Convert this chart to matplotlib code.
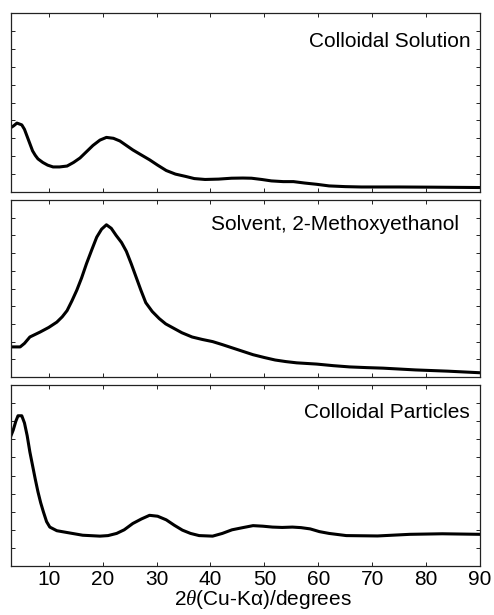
import matplotlib
matplotlib.use("Agg")
import matplotlib.pyplot as plt

plt.rcParams['font.family'] = ['Liberation Sans', 'DejaVu Sans']
plt.rcParams['mathtext.fontset'] = 'custom'
plt.rcParams['mathtext.it'] = 'Liberation Serif:italic'

# Colloidal Solution
x1 = [3, 3.5, 4.1, 5, 5.5, 6, 6.5, 7, 7.5, 8, 8.9, 9.8, 10.8, 12, 13.4, 14.6, 15.8,
      17, 18.2, 19.5, 20.7, 22, 23.2, 24.4, 25.6, 27, 28.7, 30.2, 31.8, 33.5,
      35.4, 37, 39, 41.5, 43.9, 46, 47.6, 49.5, 51.3, 53.5, 55.4, 57.5, 59.7,
      62, 65, 68, 75, 81, 90]
y1 = [0.36, 0.37, 0.385, 0.375, 0.35, 0.31, 0.27, 0.23, 0.205, 0.185, 0.165,
      0.15, 0.14, 0.14, 0.145, 0.165, 0.19, 0.225, 0.26, 0.29, 0.305, 0.30,
      0.285, 0.26, 0.235, 0.21, 0.18, 0.15, 0.12, 0.1, 0.087, 0.075, 0.07,
      0.072, 0.077, 0.078, 0.077, 0.07, 0.062, 0.058, 0.058, 0.05, 0.043,
      0.034, 0.03, 0.028, 0.028, 0.027, 0.025]

# Solvent, 2-Methoxyethanol
x2 = [3, 4.7, 5.5, 6.5, 8.4, 10, 11.5, 12.5, 13.4, 14.3, 15.2, 16.1, 17, 18,
      18.9, 19.8, 20.7, 21.6, 22.5, 23.5, 24.4, 25.3, 26.2, 27.1, 28, 29.2,
      30.5, 31.7, 32.9, 34.7, 36.6, 38.5, 40.4, 42.2, 44, 46, 47.9, 50, 52,
      54, 56, 59.7, 62.8, 65.8, 69, 72, 75, 78, 84, 90]
y2 = [0.17, 0.17, 0.19, 0.226, 0.254, 0.28, 0.31, 0.34, 0.375, 0.43, 0.49,
      0.56, 0.64, 0.72, 0.79, 0.835, 0.86, 0.84, 0.80, 0.76, 0.71, 0.64,
      0.565, 0.49, 0.42, 0.37, 0.33, 0.30, 0.28, 0.25, 0.226, 0.212, 0.2,
      0.183, 0.165, 0.145, 0.126, 0.11, 0.096, 0.087, 0.08, 0.073, 0.064,
      0.057, 0.053, 0.05, 0.045, 0.04, 0.033, 0.024]

# Colloidal Particles
x3 = [3, 3.4, 3.9, 4.3, 5, 5.5, 6, 6.5, 7.1, 7.5, 8, 8.5, 9, 9.6, 10.2, 11.5,
      13.4, 16.3, 19.5, 21, 22.6, 24, 25.6, 27.2, 28.7, 30.2, 31.8, 33.3, 34.8,
      36.3, 37.9, 40.4, 42.2, 44, 46, 47.9, 49.7, 51.5, 53.3, 55.2, 56.8, 58.5,
      60.2, 62, 65.2, 71, 77, 83, 90]
y3 = [0.72, 0.75, 0.80, 0.83, 0.83, 0.79, 0.72, 0.63, 0.54, 0.48, 0.41, 0.35,
      0.30, 0.245, 0.215, 0.195, 0.185, 0.17, 0.165, 0.168, 0.18, 0.2, 0.235,
      0.26, 0.28, 0.275, 0.255, 0.225, 0.198, 0.18, 0.168, 0.165, 0.18, 0.2,
      0.212, 0.223, 0.22, 0.215, 0.213, 0.215, 0.212, 0.205, 0.19, 0.18,
      0.168, 0.166, 0.175, 0.178, 0.175]

labels = ["Colloidal Solution", "Solvent, 2-Methoxyethanol", "Colloidal Particles"]
xticks = [10, 20, 30, 40, 50, 60, 70, 80, 90]

fig = plt.figure(figsize=(4.94, 6.15), dpi=100)
W = 494.0
H = 615.0
boxes = [(11, 13, 480, 192), (11, 200, 480, 377), (11, 385, 480, 566)]
text_pos = [(0.979, 0.84), (0.955, 0.86), (0.979, 0.85)]
series = [(x1, y1), (x2, y2), (x3, y3)]

for i, (box, (xs, ys), lab, tp) in enumerate(zip(boxes, series, labels, text_pos)):
    l, t, r, b = box
    ax = fig.add_axes([l / W, 1 - b / H, (r - l) / W, (b - t) / H])
    ax.plot(xs, ys, color='black', lw=2.2, solid_joinstyle='round')
    ax.set_xlim(3, 90)
    ax.set_ylim(0, 1)
    ax.set_xticks(xticks)
    ax.set_yticks([k / 10 for k in range(1, 10)])
    ax.tick_params(direction='in', length=3, width=0.7, top=True, right=True,
                   labelleft=False, colors='#222222')
    ax.tick_params(axis='x', labelsize=15, pad=3, labelcolor='black')
    if i < 2:
        ax.tick_params(labelbottom=False)
    for s in ax.spines.values():
        s.set_linewidth(0.9)
        s.set_color('#222222')
    ax.text(tp[0], tp[1], lab, transform=ax.transAxes, ha='right', va='center',
            fontsize=15, color='black')
    if i == 2:
        ax.set_xlabel("2$\\mathit{\\theta}$(Cu-Kα)/degrees", fontsize=15,
                      labelpad=-1, x=0.537)

fig.savefig("out.png", dpi=100)
